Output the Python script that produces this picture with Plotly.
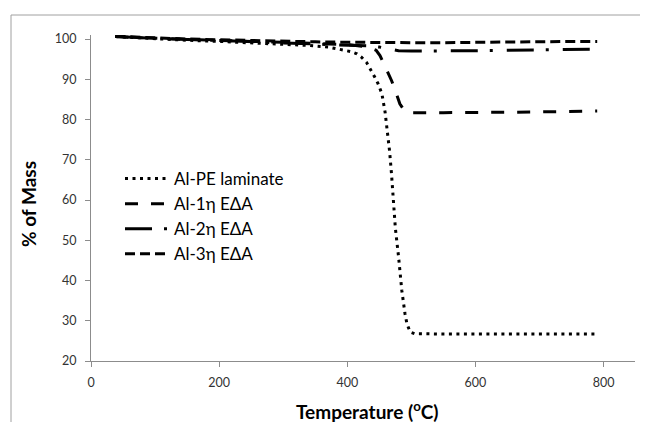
import plotly.graph_objects as go

# ---- data ----
pe_T = [38, 60, 100, 150, 200, 250, 300, 340, 370, 390, 405, 415, 422, 430, 436, 443, 448, 454, 459,
        463, 466, 469, 472, 475, 480, 485, 490, 493, 498, 505, 550, 600, 650, 700, 750, 790]
pe_M = [100.6, 100.4, 100.1, 99.7, 99.4, 99.1, 98.8, 98.4, 98.0, 97.4, 96.9, 96.3, 95.5, 94.2, 92.6,
        90.5, 88.9, 86.4, 81.8, 76.9, 72.1, 66.5, 60.0, 53.0, 45.9, 37.6, 31.8, 29.3, 27.2, 26.8,
        26.7, 26.7, 26.7, 26.7, 26.7, 26.7]

e1_T = [38, 60, 100, 150, 200, 250, 300, 350, 400, 430, 445, 451, 456, 463, 469, 474, 482, 490, 500,
        550, 600, 650, 700, 750, 790]
e1_M = [100.6, 100.5, 100.2, 99.9, 99.6, 99.4, 99.2, 98.9, 98.6, 98.1, 97.2, 95.9, 94.2, 92.0, 89.7,
        87.6, 83.9, 82.0, 81.7, 81.7, 81.7, 81.8, 81.9, 82.0, 82.1]

e2_T = [38, 60, 100, 150, 200, 250, 300, 350, 400, 430, 450, 465, 480, 500, 550, 600, 650, 700, 750, 790]
e2_M = [100.6, 100.5, 100.2, 99.9, 99.6, 99.4, 99.1, 98.8, 98.5, 98.3, 98.0, 97.5, 97.1, 97.0, 97.0,
        97.1, 97.2, 97.3, 97.4, 97.5]

e3_T = [38, 60, 100, 150, 200, 250, 300, 350, 400, 450, 500, 550, 600, 650, 700, 750, 790]
e3_M = [100.7, 100.6, 100.3, 100.0, 99.8, 99.6, 99.5, 99.3, 99.2, 99.1, 99.1, 99.1, 99.2, 99.2, 99.3,
        99.4, 99.4]

names = ["Al-PE laminate", "Al-1η EΔA", "Al-2η EΔA", "Al-3η EΔA"]
series = [(pe_T, pe_M), (e1_T, e1_M), (e2_T, e2_M), (e3_T, e3_M)]
dashes = ["3px,4.5px", "13px,13px", "27px,12px,3px,14px", "10px,5px"]

x_ticks = [0, 200, 400, 600, 800]
y_ticks = [20, 30, 40, 50, 60, 70, 80, 90, 100]

FONT = "Lato, 'Open Sans', sans-serif"

fig = go.Figure()
for (t, m), n, d in zip(series, names, dashes):
    fig.add_trace(go.Scatter(x=t, y=m, mode="lines", name=n,
                             line=dict(color="black", width=3, dash=d)))

# page body has an 8px margin; the figure is sized to fill the rest of the window
OFF = 8
W, H = 648 - OFF, 422 - OFF
L, R, T, B = 91 - OFF, 13, 35 - OFF, 61
pw, ph = W - L - R, H - T - B

def px_x(p):  # page pixel -> paper x
    return (p - OFF - L) / pw

def px_y(p):  # page pixel -> paper y
    return (H - B - (p - OFF)) / ph

fig.update_layout(
    width=W, height=H,
    margin=dict(l=L, r=R, t=T, b=B),
    paper_bgcolor="white", plot_bgcolor="white",
    font=dict(family=FONT, size=12, color="#262626"),
    showlegend=True,
    legend=dict(x=px_x(120), y=px_y(161), xanchor="left", yanchor="top",
                bgcolor="rgba(0,0,0,0)", font=dict(size=17, color="black", family=FONT),
                itemwidth=44),
    xaxis=dict(range=[0, 849], tickvals=x_ticks, showgrid=False, zeroline=False,
               showline=True, linecolor="#8c8c8c", linewidth=1,
               ticks="outside", ticklen=5, tickcolor="#8c8c8c", ticklabelstandoff=5,
               tickfont=dict(size=12.5, color="#333333", family=FONT)),
    yaxis=dict(range=[20, 101], tickvals=y_ticks, showgrid=False, zeroline=False,
               showline=True, linecolor="#8c8c8c", linewidth=1,
               ticks="outside", ticklen=5, tickcolor="#8c8c8c", ticklabelstandoff=6,
               tickfont=dict(size=12.5, color="#333333", family=FONT)),
    annotations=[
        dict(text="<b>Temperature (<sup>o</sup>C)</b>", xref="paper", yref="paper",
             x=px_x(367), y=px_y(410), xanchor="center", yanchor="middle",
             showarrow=False, font=dict(size=19, color="black", family=FONT)),
        dict(text="<b>% of Mass</b>", xref="paper", yref="paper",
             x=px_x(28), y=px_y(204), xanchor="center", yanchor="middle", textangle=-90,
             showarrow=False, font=dict(size=19, color="black", family=FONT)),
    ],
    shapes=[
        dict(type="rect", xref="paper", yref="paper",
             x0=px_x(11), x1=px_x(700), y0=px_y(480), y1=px_y(15),
             line=dict(color="#a0a0a0", width=1), fillcolor="rgba(0,0,0,0)", layer="below"),
    ],
)

fig.write_html("out.html")
